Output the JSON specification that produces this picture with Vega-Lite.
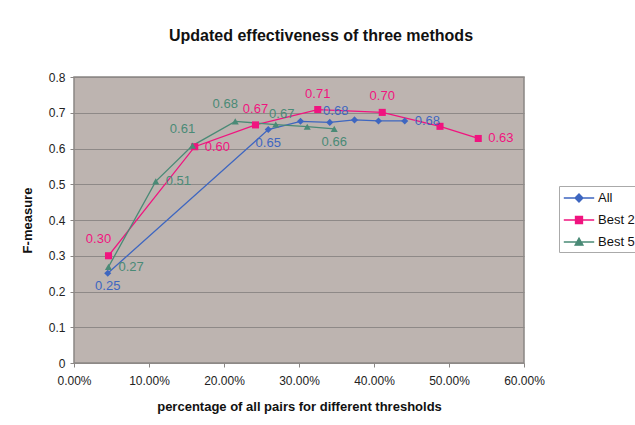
{
  "$schema": "https://vega.github.io/schema/vega-lite/v6.json",
  "width": 450,
  "height": 286,
  "autosize": "none",
  "padding": {"left": 74, "top": 77, "right": 111, "bottom": 62},
  "background": "white",
  "config": {
    "font": "Liberation Sans",
    "view": {"fill": "#bdb4b0", "stroke": "#8a8684", "strokeWidth": 1.5}
  },
  "title": {
    "text": "Updated effectiveness of three methods",
    "fontSize": 16,
    "fontWeight": "bold",
    "color": "#111111",
    "anchor": "middle",
    "dx": 22,
    "offset": 27
  },
  "datasets": {
    "pts": [
      {"series": "All", "x": 0.045, "y": 0.251, "label": "0.25", "labelPos": "below"},
      {"series": "All", "x": 0.259, "y": 0.653, "label": "0.65", "labelPos": "below"},
      {"series": "All", "x": 0.302, "y": 0.676, "label": "", "labelPos": ""},
      {"series": "All", "x": 0.341, "y": 0.673, "label": "0.68", "labelPos": "aboveright"},
      {"series": "All", "x": 0.374, "y": 0.680, "label": "", "labelPos": ""},
      {"series": "All", "x": 0.406, "y": 0.677, "label": "", "labelPos": ""},
      {"series": "All", "x": 0.441, "y": 0.677, "label": "0.68", "labelPos": "right"},
      {"series": "Best 2", "x": 0.046, "y": 0.300, "label": "0.30", "labelPos": "aboveleft"},
      {"series": "Best 2", "x": 0.161, "y": 0.605, "label": "0.60", "labelPos": "right"},
      {"series": "Best 2", "x": 0.242, "y": 0.666, "label": "0.67", "labelPos": "above"},
      {"series": "Best 2", "x": 0.325, "y": 0.709, "label": "0.71", "labelPos": "above"},
      {"series": "Best 2", "x": 0.411, "y": 0.701, "label": "0.70", "labelPos": "above"},
      {"series": "Best 2", "x": 0.488, "y": 0.662, "label": "", "labelPos": ""},
      {"series": "Best 2", "x": 0.539, "y": 0.628, "label": "0.63", "labelPos": "right"},
      {"series": "Best 5", "x": 0.046, "y": 0.269, "label": "0.27", "labelPos": "right"},
      {"series": "Best 5", "x": 0.109, "y": 0.508, "label": "0.51", "labelPos": "right"},
      {"series": "Best 5", "x": 0.158, "y": 0.608, "label": "0.61", "labelPos": "aboveleft"},
      {"series": "Best 5", "x": 0.215, "y": 0.676, "label": "0.68", "labelPos": "aboveleft"},
      {"series": "Best 5", "x": 0.269, "y": 0.667, "label": "0.67", "labelPos": "aboveright"},
      {"series": "Best 5", "x": 0.311, "y": 0.661, "label": "", "labelPos": ""},
      {"series": "Best 5", "x": 0.347, "y": 0.655, "label": "0.66", "labelPos": "below"}
    ]
  },
  "data": {"name": "pts"},
  "encoding": {
    "x": {
      "field": "x",
      "type": "quantitative",
      "scale": {"domain": [0, 0.6], "nice": false},
      "axis": {
        "title": "percentage of all pairs for different thresholds",
        "titleFontSize": 13,
        "titleFontWeight": "bold",
        "titleColor": "#111111",
        "titlePadding": 14,
        "values": [0, 0.1, 0.2, 0.3, 0.4, 0.5, 0.6],
        "format": ".2%",
        "labelFontSize": 12,
        "labelColor": "#222222",
        "labelPadding": 8,
        "labelFlush": false,
        "grid": false,
        "domain": false,
        "tickColor": "#8a8684",
        "tickSize": 4
      }
    },
    "y": {
      "field": "y",
      "type": "quantitative",
      "scale": {"domain": [0, 0.8], "nice": false},
      "axis": {
        "title": "F-measure",
        "titleFontSize": 13,
        "titleFontWeight": "bold",
        "titleColor": "#111111",
        "titlePadding": 14,
        "values": [0, 0.1, 0.2, 0.3, 0.4, 0.5, 0.6, 0.7, 0.8],
        "format": ".1~f",
        "labelFontSize": 12,
        "labelColor": "#222222",
        "labelPadding": 5,
        "labelFlush": false,
        "grid": true,
        "gridColor": "#8e8987",
        "gridWidth": 1.2,
        "domain": false,
        "tickColor": "#8a8684",
        "tickSize": 4
      }
    }
  },
  "resolve": {"scale": {"color": "independent", "shape": "independent"}, "legend": {"color": "independent", "shape": "independent"}},
  "layer": [
    {
      "mark": {"type": "line", "strokeWidth": 1.3},
      "encoding": {
        "order": {"field": "x", "type": "quantitative"},
        "color": {
          "field": "series",
          "type": "nominal",
          "scale": {"domain": ["All", "Best 2", "Best 5"], "range": ["#3e66c0", "#f0147f", "#4a8a76"]},
          "legend": {
            "title": null,
            "orient": "none",
            "legendX": 485,
            "legendY": 109,
            "fillColor": "white",
            "strokeColor": "#aaaaaa",
            "padding": 3,
            "labelFontSize": 13,
            "labelColor": "#111111",
            "labelOffset": 10,
            "symbolOffset": 8,
            "rowPadding": 6,
            "symbolSize": 256,
            "symbolStrokeWidth": 1.3,
            "encode": {
              "symbols": {
                "update": {
                  "shape": {"signal": "datum.value === 'All' ? 'M-1.9,0H1.9M-0.5,0L0,-0.5L0.5,0L0,0.5Z' : (datum.value === 'Best 2' ? 'M-1.9,0H1.9M-0.44,-0.44H0.44V0.44H-0.44Z' : 'M-1.9,0H1.9M-0.5,0.4L0,-0.5L0.5,0.4Z')"},
                  "fill": {"signal": "datum.value === 'All' ? '#3e66c0' : (datum.value === 'Best 2' ? '#f0147f' : '#4a8a76')"},
                  "stroke": {"signal": "datum.value === 'All' ? '#3e66c0' : (datum.value === 'Best 2' ? '#f0147f' : '#4a8a76')"},
                  "strokeWidth": {"value": 1.3}
                }
              }
            }
          }
        }
      }
    },
    {
      "mark": {"type": "point", "filled": true, "opacity": 1, "size": 50},
      "encoding": {
        "color": {
          "field": "series",
          "type": "nominal",
          "scale": {"domain": ["All", "Best 2", "Best 5"], "range": ["#3e66c0", "#f0147f", "#4a8a76"]},
          "legend": null
        },
        "shape": {
          "field": "series",
          "type": "nominal",
          "scale": {"domain": ["All", "Best 2", "Best 5"], "range": ["diamond", "square", "triangle-up"]},
          "legend": null
        }
      }
    },
    {
      "transform": [{"filter": "datum.labelPos === 'right'"}],
      "mark": {"type": "text", "align": "left", "baseline": "middle", "dx": 10, "fontSize": 13},
      "encoding": {"text": {"field": "label"}, "color": {"field": "series", "type": "nominal", "scale": {"domain": ["All", "Best 2", "Best 5"], "range": ["#3e66c0", "#f0147f", "#4a8a76"]}, "legend": null}}
    },
    {
      "transform": [{"filter": "datum.labelPos === 'above'"}],
      "mark": {"type": "text", "align": "center", "baseline": "middle", "dy": -16, "fontSize": 13},
      "encoding": {"text": {"field": "label"}, "color": {"field": "series", "type": "nominal", "scale": {"domain": ["All", "Best 2", "Best 5"], "range": ["#3e66c0", "#f0147f", "#4a8a76"]}, "legend": null}}
    },
    {
      "transform": [{"filter": "datum.labelPos === 'aboveright'"}],
      "mark": {"type": "text", "align": "center", "baseline": "middle", "dx": 6, "dy": -11, "fontSize": 13},
      "encoding": {"text": {"field": "label"}, "color": {"field": "series", "type": "nominal", "scale": {"domain": ["All", "Best 2", "Best 5"], "range": ["#3e66c0", "#f0147f", "#4a8a76"]}, "legend": null}}
    },
    {
      "transform": [{"filter": "datum.labelPos === 'below'"}],
      "mark": {"type": "text", "align": "center", "baseline": "middle", "dy": 13, "fontSize": 13},
      "encoding": {"text": {"field": "label"}, "color": {"field": "series", "type": "nominal", "scale": {"domain": ["All", "Best 2", "Best 5"], "range": ["#3e66c0", "#f0147f", "#4a8a76"]}, "legend": null}}
    },
    {
      "transform": [{"filter": "datum.labelPos === 'aboveleft'"}],
      "mark": {"type": "text", "align": "center", "baseline": "middle", "dx": -10, "dy": -17, "fontSize": 13},
      "encoding": {"text": {"field": "label"}, "color": {"field": "series", "type": "nominal", "scale": {"domain": ["All", "Best 2", "Best 5"], "range": ["#3e66c0", "#f0147f", "#4a8a76"]}, "legend": null}}
    }
  ]
}
